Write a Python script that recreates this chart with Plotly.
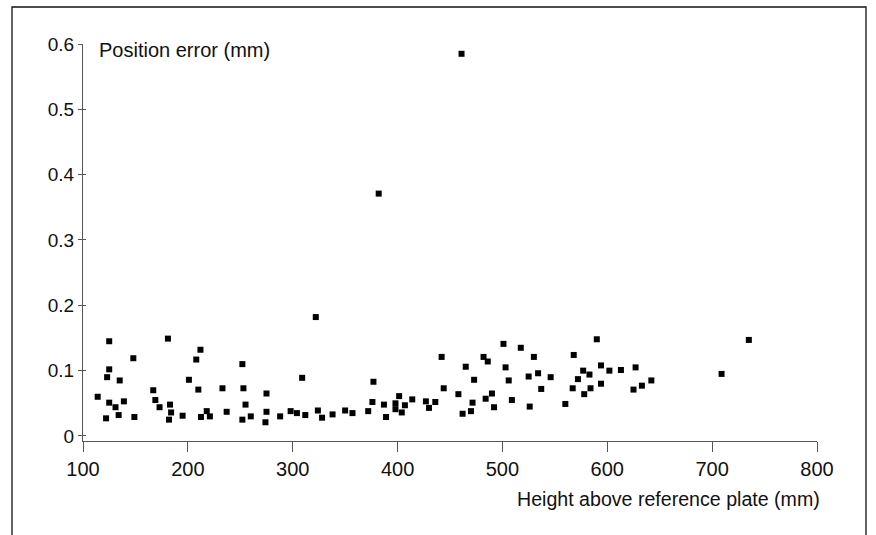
import plotly.graph_objects as go

# Height above reference plate (mm)
height_mm = [114, 122, 123, 125, 125, 125, 131, 135, 134, 139, 148, 149, 167, 169, 173, 181,
             182, 183, 184, 195, 201, 208, 210, 212, 212.5, 218, 221, 233, 237, 252, 253, 255,
             252, 260, 275, 275, 274, 288, 298, 304, 309, 312, 322, 324, 328, 338, 350, 357,
             372, 377, 376, 382, 387, 389, 398, 398, 401.5, 404, 407, 414, 427, 430, 436, 442,
             444, 458, 461, 462, 465, 470, 471.5, 473, 482, 486, 484, 490, 492, 501, 503, 506,
             509, 517.5, 525, 526, 530, 534, 537, 546, 560, 567, 568, 572, 577, 578, 583, 584,
             590, 594, 594, 602, 613, 625, 627, 633, 642, 709, 735]

# Position error (mm)
error_mm = [0.060, 0.027, 0.090, 0.145, 0.102, 0.051, 0.044, 0.085, 0.032, 0.053, 0.119, 0.029,
            0.070, 0.055, 0.044, 0.149, 0.025, 0.048, 0.036, 0.031, 0.086, 0.117, 0.071, 0.132,
            0.029, 0.038, 0.030, 0.073, 0.037, 0.110, 0.073, 0.048, 0.025, 0.030, 0.065, 0.037,
            0.021, 0.030, 0.038, 0.035, 0.089, 0.032, 0.182, 0.039, 0.028, 0.033, 0.039, 0.035,
            0.038, 0.083, 0.052, 0.371, 0.048, 0.029, 0.050, 0.041, 0.061, 0.036, 0.047, 0.056,
            0.053, 0.043, 0.052, 0.121, 0.073, 0.064, 0.585, 0.034, 0.106, 0.038, 0.051, 0.086,
            0.121, 0.114, 0.057, 0.065, 0.044, 0.141, 0.105, 0.085, 0.055, 0.135, 0.091, 0.045,
            0.121, 0.096, 0.072, 0.090, 0.049, 0.073, 0.124, 0.087, 0.100, 0.064, 0.094, 0.073,
            0.148, 0.108, 0.080, 0.100, 0.101, 0.071, 0.105, 0.077, 0.085, 0.095, 0.147]

x_ticks = [100, 200, 300, 400, 500, 600, 700, 800]
y_ticks = [0, 0.1, 0.2, 0.3, 0.4, 0.5, 0.6]
y_tick_text = ["0", "0.1", "0.2", "0.3", "0.4", "0.5", "0.6"]

FONT = "Liberation Sans, Arial, Helvetica, sans-serif"
AXIS_COL = "#555555"
TEXT_COL = "#111111"

W, H = 876, 535
ML, MR, MT, MB = 83, 59, 44, 94
PW = W - ML - MR
PH = H - MT - MB


def px_to_paper_x(px):
    return (px - ML) / PW


def px_to_paper_y(py):
    return (H - MB - py) / PH


fig = go.Figure()
fig.add_trace(go.Scatter(
    x=height_mm, y=error_mm, mode="markers",
    marker=dict(symbol="square", size=6, color="black", line=dict(width=0)),
    showlegend=False, hoverinfo="x+y",
))
# helper trace so the overlay axis (inner tick halves) is drawn
fig.add_trace(go.Scatter(x=[None], y=[None], yaxis="y2", showlegend=False, hoverinfo="skip"))

fig.update_layout(
    width=W, height=H,
    margin=dict(l=ML, r=MR, t=MT, b=MB),
    paper_bgcolor="white", plot_bgcolor="white",
    font=dict(family=FONT, size=20, color=TEXT_COL),
    xaxis=dict(
        range=[100, 800], tickvals=x_ticks, ticks="outside", ticklen=10, tickwidth=1,
        tickcolor=AXIS_COL, showline=True, linecolor=AXIS_COL, linewidth=1,
        showgrid=False, zeroline=False, tickfont=dict(size=20, color=TEXT_COL),
    ),
    yaxis=dict(
        range=[-0.0077, 0.6], tickvals=y_ticks, ticktext=y_tick_text, ticks="outside",
        ticklen=4, tickwidth=1, tickcolor=AXIS_COL, showline=True, linecolor=AXIS_COL,
        linewidth=1, showgrid=False, zeroline=False, tickfont=dict(size=19, color=TEXT_COL),
    ),
    yaxis2=dict(
        overlaying="y", matches="y", range=[-0.0077, 0.6], tickvals=y_ticks, ticks="inside",
        ticklen=3, tickwidth=1, tickcolor=AXIS_COL, showline=False, showgrid=False,
        zeroline=False, showticklabels=False,
    ),
    annotations=[
        dict(text="Position error (mm)", xref="paper", yref="paper",
             x=px_to_paper_x(97), y=px_to_paper_y(50), xanchor="left", yanchor="middle",
             showarrow=False, font=dict(size=20, color=TEXT_COL)),
        dict(text="Height above reference plate (mm)", xref="paper", yref="paper",
             x=px_to_paper_x(822), y=px_to_paper_y(499), xanchor="right", yanchor="middle",
             showarrow=False, font=dict(size=19.6, color=TEXT_COL)),
    ],
    shapes=[
        dict(type="rect", xref="paper", yref="paper",
             x0=px_to_paper_x(12), x1=px_to_paper_x(866),
             y0=px_to_paper_y(560), y1=px_to_paper_y(7),
             line=dict(color="#111111", width=1.3), fillcolor="rgba(0,0,0,0)", layer="below"),
    ],
)

fig.write_html("out.html", config={"displayModeBar": False},
               post_script="document.body.style.margin='0';")
